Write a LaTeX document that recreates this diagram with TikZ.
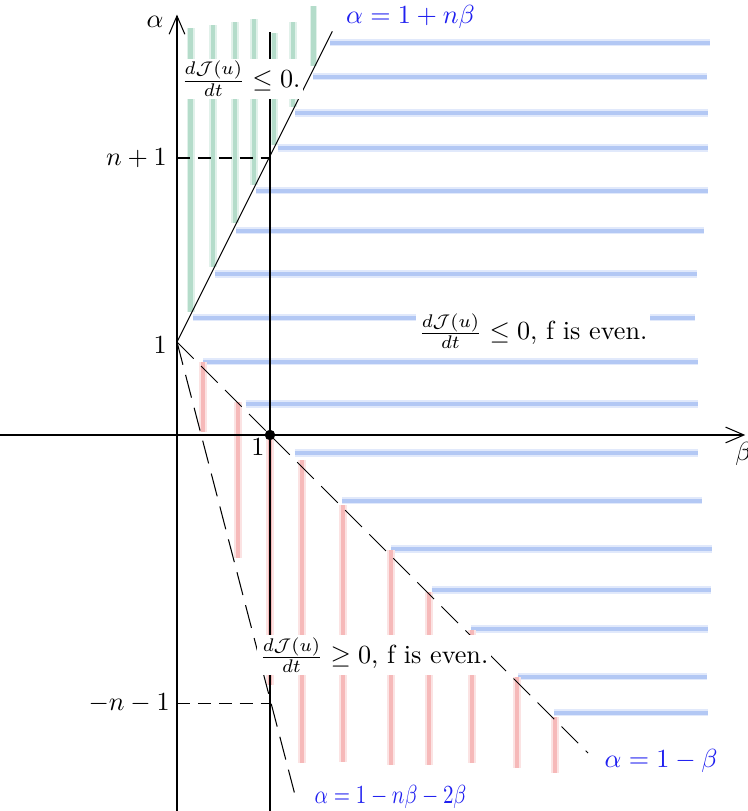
\documentclass[tikz,border=0pt]{standalone}
\usepackage{xcolor}
\definecolor{cLine}{HTML}{000000}
\definecolor{cLabel}{HTML}{2020F0}
\definecolor{cGreen}{HTML}{B4DCCA}
\definecolor{cBlue}{HTML}{B3C8F4}
\definecolor{cRed}{HTML}{F6B9B9}
\usepackage{tikz}
\usetikzlibrary{arrows.meta}
\tikzset{
  axis-line/.style={-{Straight Barb[length=7pt,width=6pt]},draw=cLine},
  guide-dash/.style={draw=cLine,dash pattern=on 5pt off 3pt},
  bound-dash/.style={draw=cLine,dash pattern=on 9pt off 4pt},
  stripe-green/.style={line width=1.7pt,draw=cGreen,
    preaction={draw=cGreen!40,line width=3pt}},
  stripe-blue/.style={line width=1.5pt,draw=cBlue,
    preaction={draw=cBlue!40,line width=2.8pt}},
  stripe-red/.style={line width=1.5pt,draw=cRed,
    preaction={draw=cRed!40,line width=2.8pt}},
  region-text/.style={fill=white,inner sep=1pt},
  line-label/.style={text=cLabel,anchor=west},
  tick-label/.style={anchor=east},
}

\begin{document}
\begin{tikzpicture}[x=1.25cm,y=1.25cm]
  \useasboundingbox (-1.903,-4.043) rectangle (6.129,4.677);
  \coordinate (O)  at (0,0);
  \coordinate (A)  at (0,1);
  \coordinate (P)  at (1,0);
  \coordinate (Q0) at (0,2.978);
  \coordinate (Q)  at (1,2.978);
  \coordinate (R0) at (0,-2.882);
  \coordinate (R)  at (1,-2.882);
  \coordinate (xl) at (-1.903,0);
  \coordinate (xr) at (6.11,0);
  \coordinate (yb) at (0,-4.043);
  \coordinate (yt) at (0,4.52);
  \coordinate (vt) at (1,4.33);
  \coordinate (vb) at (1,-4.043);
  \coordinate (Lup)  at (1.67,4.34);
  \coordinate (Ldn)  at (4.42,-3.42);
  \coordinate (Lst)  at (1.269,-3.871);

  % stripes
  \foreach \b/\t in {0.147/4.376,0.39/4.409,0.624/4.441,0.831/4.473,
                     1.043/4.323,1.25/4.441,1.468/4.613}
    \draw[stripe-green] (\b,{1+2*\b+0.03}) -- (\b,\t);
  \foreach \a/\e in {4.218/5.731,3.853/5.699,3.462/5.71,3.086/5.71,
                     2.627/5.71,2.197/5.667,1.731/5.591,1.261/5.57}
    \draw[stripe-blue] ({(\a-1)/2+0.04},\a) -- (\e,\a);
  \foreach \a/\e in {0.788/5.602,0.333/5.602,-0.194/5.602,-0.706/5.645,
                     -1.226/5.753,-1.667/5.742,-2.086/5.71,-2.599/5.699,
                     -2.986/5.71}
    \draw[stripe-blue] ({1.07-\a},\a) -- (\e,\a);
  \foreach \b/\t/\e in {0.28/0.785/0.032,0.656/0.355/-1.323,1.0/0/-2.688,
                        1.344/-0.269/-3.527,1.785/-0.753/-3.516,
                        2.301/-1.237/-3.548,2.71/-1.688/-3.548,
                        3.172/-2.097/-3.527,3.656/-2.602/-3.581,
                        4.065/-3.032/-3.634}
    \draw[stripe-red] (\b,\e) -- (\b,\t);

  \draw[axis-line] (xl) -- (xr);
  \draw[axis-line] (yb) -- (yt);
  \draw[cLine] (vb) -- (vt);
  \draw[cLine] (A) -- (Lup);
  \draw[bound-dash] (A) -- (Ldn);
  \draw[bound-dash] (A) -- (Lst);
  \draw[guide-dash] (Q0) -- (Q);
  \draw[guide-dash] (R0) -- (R);
  \fill[cLine] (P) circle (2pt);

  \node[region-text] (t1) at (0.688,3.828) {$\frac{d\mathcal{J}(u)}{dt}\leq 0.$};
  \node[region-text] (t2) at (3.828,1.118) {$\frac{d\mathcal{J}(u)}{dt}\leq 0$, f is even.};
  \node[region-text] (t3) at (2.118,-2.366) {$\frac{d\mathcal{J}(u)}{dt}\geq 0$, f is even.};

  \node (la) at (-0.237,4.44) {$\alpha$};
  \node (lb) at (6.09,-0.2) {$\beta$};
  \node[tick-label] (ln) at (-0.01,2.978) {$n+1$};
  \node[tick-label] (l1) at (-0.01,0.97) {$1$};
  \node (lp) at (0.87,-0.13) {$1$};
  \node[tick-label] (lm) at (0.02,-2.882) {$-n-1$};
  \node[line-label] (e1) at (1.72,4.49) {$\alpha=1+n\beta$};
  \node[line-label] (e2) at (4.5,-3.5) {$\alpha=1-\beta$};
  \node[line-label] (e3) at (1.38,-3.89) {\scalebox{0.8}[1]{$\alpha=1-n\beta-2\beta$}};
\end{tikzpicture}
\end{document}
